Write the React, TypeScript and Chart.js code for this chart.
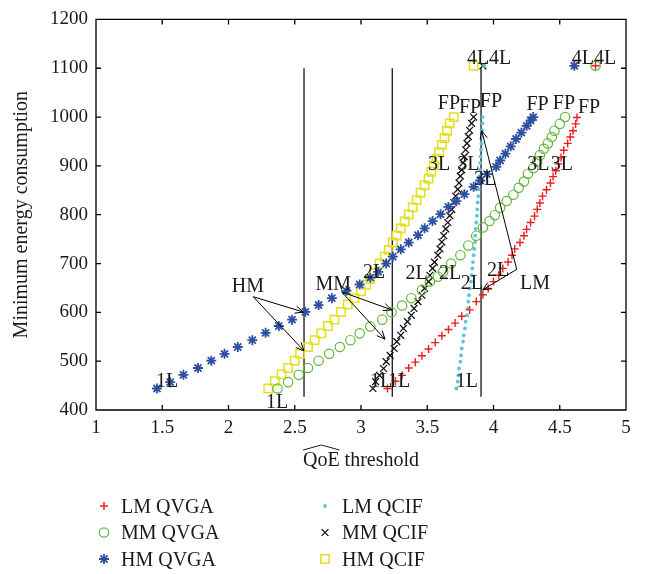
import React, { useEffect, useRef } from 'react';
import { Chart, registerables } from 'chart.js';
import { drawPoint } from 'chart.js/helpers';

Chart.register(...registerables);

const SERIF = '"Liberation Serif", "Times New Roman", serif';
const INK = '#1a1a1a';

// QoE threshold (x) against minimum energy consumption (y); last point of each series is the 4L case
const lmQvgaX = [3.20, 3.26, 3.31, 3.36, 3.41, 3.46, 3.51, 3.56, 3.61, 3.66, 3.71, 3.76, 3.82, 3.87, 3.92, 3.96, 4.00, 4.04, 4.07, 4.11, 4.14, 4.16, 4.20, 4.23, 4.25, 4.28, 4.31, 4.33, 4.35, 4.37, 4.40, 4.43, 4.45, 4.47, 4.49, 4.51, 4.53, 4.56, 4.58, 4.60, 4.62, 4.63, 4.77];
const lmQvgaY = [444, 459, 471, 486, 498, 511, 525, 538, 552, 565, 578, 592, 605, 622, 636, 649, 663, 676, 690, 703, 717, 730, 743, 757, 770, 784, 797, 811, 824, 838, 851, 865, 878, 890, 904, 917, 932, 946, 959, 972, 986, 999, 1105];

const mmQvgaX = [2.37, 2.45, 2.53, 2.60, 2.68, 2.76, 2.84, 2.92, 2.99, 3.07, 3.16, 3.23, 3.31, 3.38, 3.46, 3.52, 3.58, 3.62, 3.68, 3.75, 3.81, 3.87, 3.92, 3.97, 4.01, 4.05, 4.10, 4.15, 4.19, 4.23, 4.26, 4.30, 4.33, 4.35, 4.38, 4.41, 4.44, 4.46, 4.50, 4.54, 4.77];
const mmQvgaY = [444, 457, 472, 486, 501, 515, 529, 543, 557, 571, 585, 600, 614, 629, 646, 663, 673, 683, 700, 717, 737, 757, 774, 787, 799, 814, 828, 841, 855, 868, 884, 895, 909, 922, 935, 946, 959, 972, 986, 1000, 1105];

const hmQvgaX = [1.46, 1.56, 1.66, 1.77, 1.87, 1.97, 2.07, 2.18, 2.28, 2.38, 2.48, 2.58, 2.68, 2.78, 2.89, 2.99, 3.07, 3.13, 3.19, 3.24, 3.30, 3.36, 3.43, 3.48, 3.54, 3.60, 3.66, 3.72, 3.78, 3.85, 3.90, 3.95, 4.02, 4.05, 4.09, 4.13, 4.17, 4.21, 4.25, 4.28, 4.30, 4.61];
const hmQvgaY = [444, 457, 472, 486, 501, 515, 529, 543, 558, 572, 585, 601, 615, 629, 644, 657, 671, 683, 700, 714, 729, 743, 758, 772, 787, 801, 816, 828, 842, 857, 870, 883, 898, 911, 925, 940, 955, 968, 982, 993, 1000, 1105];

const lmQcifX = [3.72, 3.73, 3.735, 3.74, 3.75, 3.755, 3.76, 3.77, 3.775, 3.785, 3.79, 3.80, 3.805, 3.81, 3.815, 3.82, 3.83, 3.835, 3.84, 3.845, 3.85, 3.855, 3.86, 3.862, 3.865, 3.87, 3.875, 3.878, 3.88, 3.885, 3.888, 3.89, 3.894, 3.898, 3.90, 3.903, 3.906, 3.91, 3.912, 3.914, 3.916, 3.918, 3.93];
const lmQcifY = [444, 458, 471, 485, 499, 512, 526, 540, 553, 567, 581, 594, 608, 622, 635, 649, 663, 676, 690, 703, 717, 730, 744, 757, 771, 784, 798, 811, 825, 838, 852, 865, 879, 892, 906, 919, 933, 946, 960, 973, 987, 1000, 1105];

const mmQcifX = [3.09, 3.11, 3.14, 3.17, 3.19, 3.22, 3.25, 3.27, 3.30, 3.32, 3.35, 3.38, 3.40, 3.43, 3.46, 3.48, 3.51, 3.52, 3.54, 3.555, 3.58, 3.596, 3.61, 3.625, 3.64, 3.655, 3.67, 3.685, 3.70, 3.715, 3.73, 3.74, 3.75, 3.76, 3.77, 3.78, 3.79, 3.80, 3.81, 3.82, 3.835, 3.85, 3.92];
const mmQcifY = [444, 458, 471, 485, 499, 512, 526, 540, 553, 567, 581, 594, 608, 622, 635, 649, 663, 676, 690, 703, 717, 730, 744, 757, 771, 784, 798, 811, 825, 838, 852, 865, 879, 892, 906, 919, 933, 946, 960, 973, 987, 1000, 1105];

const hmQcifX = [2.30, 2.35, 2.40, 2.45, 2.50, 2.54, 2.60, 2.65, 2.70, 2.75, 2.80, 2.85, 2.90, 2.95, 3.00, 3.04, 3.07, 3.10, 3.14, 3.18, 3.21, 3.24, 3.27, 3.30, 3.33, 3.36, 3.39, 3.42, 3.45, 3.48, 3.51, 3.53, 3.55, 3.57, 3.59, 3.61, 3.63, 3.65, 3.67, 3.70, 3.85];
const hmQcifY = [444, 459, 473, 486, 501, 515, 529, 543, 557, 572, 585, 601, 616, 629, 643, 657, 668, 680, 700, 714, 728, 743, 757, 772, 786, 800, 815, 830, 845, 860, 874, 888, 901, 914, 928, 943, 957, 972, 987, 1000, 1105];

// QoE thresholds marked by vertical reference lines, and their vertical extent
const refLineX = [2.57, 3.236, 3.906];
const refLineY = [427, 1100];

const xTickValues = [1, 1.5, 2, 2.5, 3, 3.5, 4, 4.5, 5];
const yTickValues = [400, 500, 600, 700, 800, 900, 1000, 1100, 1200];

// layer labels placed beside the curves (data coordinates)
const layerLabels: [string, number, number][] = [
  ['1L', 1.536, 460], ['1L', 2.366, 418], ['1L', 3.151, 460], ['1L', 3.287, 460], ['1L', 3.798, 460],
  ['2L', 3.098, 683], ['2L', 3.42, 682], ['2L', 3.672, 682], ['2L', 3.836, 661], ['2L', 4.034, 687],
  ['3L', 3.589, 905], ['3L', 3.81, 905], ['3L', 3.936, 875], ['3L', 4.338, 905], ['3L', 4.515, 905],
  ['FP', 3.664, 1031], ['FP', 3.823, 1021], ['FP', 3.981, 1035], ['FP', 4.333, 1027], ['FP', 4.532, 1031], ['FP', 4.721, 1021],
  ['4L', 3.883, 1122], ['4L', 4.049, 1122], ['4L', 4.675, 1122], ['4L', 4.842, 1122],
];

// mobility callouts: label position, arrow origin, arrow tips
const callouts: { text: string; at: [number, number]; from: [number, number]; tips: [number, number][] }[] = [
  { text: 'HM', at: [2.147, 655], from: [2.187, 632], tips: [[2.565, 600.6], [2.57, 521]] },
  { text: 'MM', at: [2.791, 659], from: [2.854, 642], tips: [[3.232, 605], [3.181, 545]] },
  { text: 'LM', at: [4.313, 661], from: [4.175, 688], tips: [[3.918, 646], [3.911, 972]] },
];

const seriesNames = ['LM QVGA', 'MM QVGA', 'HM QVGA', 'LM QCIF', 'MM QCIF', 'HM QCIF'];
const seriesX = [lmQvgaX, mmQvgaX, hmQvgaX, lmQcifX, mmQcifX, hmQcifX];
const seriesY = [lmQvgaY, mmQvgaY, hmQvgaY, lmQcifY, mmQcifY, hmQcifY];
const seriesStyle = [
  { color: '#f01c1c', pointStyle: 'cross', radius: 4, width: 1.4, fill: false },
  { color: '#62b83a', pointStyle: 'circle', radius: 4.7, width: 1.2, fill: false },
  { color: '#2c4fa3', pointStyle: 'star', radius: 5, width: 1.8, fill: false },
  { color: '#5cc6d6', pointStyle: 'circle', radius: 1.9, width: 0, fill: true },
  { color: '#111111', pointStyle: 'crossRot', radius: 4.8, width: 1.3, fill: false },
  { color: '#e4df22', pointStyle: 'rect', radius: 5.9, width: 1.5, fill: false },
];

const datasets: any[] = seriesNames.map((name, i) => ({
  label: name,
  data: seriesX[i].map((x, k) => ({ x, y: seriesY[i][k] })),
  showLine: false,
  pointStyle: seriesStyle[i].pointStyle,
  pointRadius: seriesStyle[i].radius,
  pointBorderWidth: seriesStyle[i].width,
  pointBorderColor: seriesStyle[i].color,
  pointBackgroundColor: seriesStyle[i].fill ? seriesStyle[i].color : 'rgba(0,0,0,0)',
  inLegend: true,
}));

refLineX.forEach((x) => {
  datasets.push({
    label: '',
    data: refLineY.map((y) => ({ x, y })),
    showLine: true,
    borderColor: '#000',
    borderWidth: 1.2,
    pointRadius: 0,
    inLegend: false,
  });
});

function baselineText(ctx: CanvasRenderingContext2D, text: string, cx: number, cy: number, size: number) {
  ctx.font = `${size}px ${SERIF}`;
  ctx.textAlign = 'center';
  ctx.textBaseline = 'alphabetic';
  ctx.fillText(text, cx, cy + size * 0.33);
}

function arrow(ctx: CanvasRenderingContext2D, x0: number, y0: number, x1: number, y1: number) {
  ctx.beginPath();
  ctx.moveTo(x0, y0);
  ctx.lineTo(x1, y1);
  const a = Math.atan2(y1 - y0, x1 - x0);
  const len = 9;
  const spread = 0.42;
  ctx.moveTo(x1 - len * Math.cos(a - spread), y1 - len * Math.sin(a - spread));
  ctx.lineTo(x1, y1);
  ctx.lineTo(x1 - len * Math.cos(a + spread), y1 - len * Math.sin(a + spread));
  ctx.stroke();
}

const annotations = {
  id: 'annotations',
  afterDatasetsDraw(chart: any) {
    const { ctx, scales } = chart;
    const px = (v: number) => scales.x.getPixelForValue(v);
    const py = (v: number) => scales.y.getPixelForValue(v);
    ctx.save();
    ctx.fillStyle = INK;
    ctx.strokeStyle = '#000';

    // axes box with inward tick marks on all four sides
    const L = px(xTickValues[0]);
    const R = px(xTickValues[xTickValues.length - 1]);
    const B = py(yTickValues[0]);
    const T = py(yTickValues[yTickValues.length - 1]);
    const tick = 5;
    ctx.lineWidth = 1.3;
    ctx.beginPath();
    ctx.moveTo(L, T); ctx.lineTo(R, T); ctx.lineTo(R, B); ctx.lineTo(L, B); ctx.closePath();
    xTickValues.forEach((v) => {
      const x = px(v);
      ctx.moveTo(x, B); ctx.lineTo(x, B - tick);
      ctx.moveTo(x, T); ctx.lineTo(x, T + tick);
    });
    yTickValues.forEach((v) => {
      const y = py(v);
      ctx.moveTo(L, y); ctx.lineTo(L + tick, y);
      ctx.moveTo(R, y); ctx.lineTo(R - tick, y);
    });
    ctx.stroke();

    ctx.lineWidth = 1;
    layerLabels.forEach(([t, x, y]) => baselineText(ctx, t, px(x), py(y), 20));
    callouts.forEach((c) => {
      baselineText(ctx, c.text, px(c.at[0]), py(c.at[1]), 20);
      c.tips.forEach((tip) => arrow(ctx, px(c.from[0]), py(c.from[1]), px(tip[0]), py(tip[1])));
    });
    ctx.restore();
  },
};

const titlesAndLegend = {
  id: 'titlesAndLegend',
  afterDraw(chart: any) {
    const { ctx, chartArea } = chart;
    ctx.save();
    ctx.fillStyle = INK;
    ctx.strokeStyle = INK;
    ctx.lineWidth = 1;
    ctx.font = `20px ${SERIF}`;
    const cx = (chartArea.left + chartArea.right) / 2;
    const xTitle = 'QoE threshold';
    const full = ctx.measureText(xTitle).width;
    const qoe = ctx.measureText('QoE').width;
    const startX = cx - full / 2;
    const base = 466;
    ctx.textAlign = 'left';
    ctx.textBaseline = 'alphabetic';
    ctx.fillText(xTitle, startX, base);
    ctx.beginPath();
    ctx.moveTo(startX, base - 16);
    ctx.lineTo(startX + qoe / 2, base - 21);
    ctx.lineTo(startX + qoe, base - 16);
    ctx.stroke();

    ctx.save();
    ctx.translate(27, (chartArea.top + chartArea.bottom) / 2);
    ctx.rotate(-Math.PI / 2);
    ctx.textAlign = 'center';
    ctx.fillText('Minimum energy consumption', 0, 0);
    ctx.restore();

    // legend, two columns of three entries
    chart.data.datasets.forEach((ds: any, i: number) => {
      if (!ds.inLegend) return;
      const col = Math.floor(i / 3);
      const row = i % 3;
      const mx = col === 0 ? 104 : 325;
      const my = 506 + row * 26.5;
      ctx.strokeStyle = ds.pointBorderColor;
      ctx.fillStyle = ds.pointBackgroundColor;
      ctx.lineWidth = ds.pointBorderWidth;
      drawPoint(ctx, {
        pointStyle: ds.pointStyle,
        radius: ds.pointRadius,
        rotation: 0,
        borderWidth: ds.pointBorderWidth,
      } as any, mx, my);
      ctx.fillStyle = INK;
      ctx.font = `20px ${SERIF}`;
      ctx.textAlign = 'left';
      ctx.textBaseline = 'alphabetic';
      ctx.fillText(ds.label, mx + 17, my + 6.6);
    });
    ctx.restore();
  },
};

const plainNumber = (v: number | string) => String(v);

const App = () => {
  const ref = useRef<HTMLCanvasElement>(null);
  useEffect(() => {
    if (!ref.current) return;
    const chart = new Chart(ref.current, {
      type: 'scatter',
      data: { datasets },
      options: {
        animation: false,
        responsive: false,
        devicePixelRatio: 1,
        layout: { padding: { top: 14, right: 19, left: 0, bottom: 0 } },
        plugins: { legend: { display: false }, tooltip: { enabled: false } },
        scales: {
          x: {
            type: 'linear',
            min: 1,
            max: 5,
            afterBuildTicks: (s: any) => { s.ticks = xTickValues.map((value) => ({ value })); },
            afterFit: (s: any) => { s.height = 164; },
            grid: { display: false, drawTicks: false },
            border: { display: false },
            ticks: { padding: 7, color: INK, font: { family: SERIF, size: 19 }, maxRotation: 0, autoSkip: false, callback: plainNumber },
          },
          y: {
            type: 'linear',
            min: 400,
            max: 1200,
            afterBuildTicks: (s: any) => { s.ticks = yTickValues.map((value) => ({ value })); },
            afterFit: (s: any) => { s.width = 96; },
            grid: { display: false, drawTicks: false },
            border: { display: false },
            ticks: { padding: 8, color: INK, font: { family: SERIF, size: 19 }, autoSkip: false, callback: plainNumber },
          },
        },
      } as any,
      plugins: [annotations, titlesAndLegend],
    });
    return () => chart.destroy();
  }, []);
  return (
    <div style={{ position: 'fixed', left: 0, top: 0, width: 645, height: 574, background: '#fff' }}>
      <canvas ref={ref} width={645} height={574} style={{ display: 'block' }} />
    </div>
  );
};

export default App;
